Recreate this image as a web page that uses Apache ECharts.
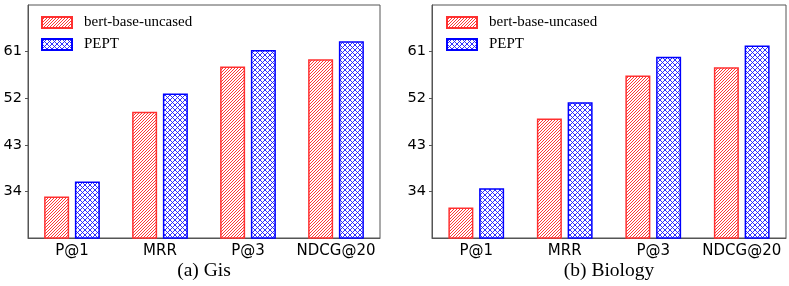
<!DOCTYPE html>
<html>
<head>
<meta charset="utf-8">
<script src="https://cdn.jsdelivr.net/npm/echarts@6/dist/echarts.min.js"></script>
<style>html,body{margin:0;padding:0;background:#fff;}#c{width:789px;height:286px;}</style>
</head>
<body>
<div id="c"></div>
<script>
const categories = ['P@1', 'MRR', 'P@3', 'NDCG@20'];
const seriesNames = ['bert-base-uncased', 'PEPT'];
const gisBert = [33.0, 49.4, 58.1, 59.5];
const gisPept = [35.9, 52.9, 61.3, 63.0];
const bioBert = [30.9, 48.1, 56.4, 58.0];
const bioPept = [34.6, 51.2, 60.0, 62.2];
const yTicks = [34, 43, 52, 61];
const panelTitles = ['(a) Gis', '(b) Biology'];

function hatch() {
  const c = document.createElement('canvas');
  const s = 3;
  c.width = s; c.height = s;
  const g = c.getContext('2d');
  g.fillStyle = '#fff'; g.fillRect(0, 0, s, s);
  g.strokeStyle = '#ff2020'; g.lineWidth = 0.9;
  for (let k = -1; k <= 1; k++) {
    g.beginPath(); g.moveTo(k * s - 1, s + 1); g.lineTo(k * s + s + 1, -1); g.stroke();
  }
  return c;
}
function cross() {
  const c = document.createElement('canvas');
  const s = 5;
  c.width = s; c.height = s;
  const g = c.getContext('2d');
  g.fillStyle = '#fff'; g.fillRect(0, 0, s, s);
  g.strokeStyle = '#1a1aff'; g.lineWidth = 0.9;
  for (let k = -1; k <= 1; k++) {
    g.beginPath(); g.moveTo(k * s - 1, s + 1); g.lineTo(k * s + s + 1, -1); g.stroke();
    g.beginPath(); g.moveTo(k * s - 1, -1); g.lineTo(k * s + s + 1, s + 1); g.stroke();
  }
  return c;
}
const redPat = { image: hatch(), repeat: 'repeat' };
const bluePat = { image: cross(), repeat: 'repeat' };

const grids = [
  { left: 28, top: 5, width: 352, height: 233 },
  { left: 432, top: 5, width: 354, height: 233 }
];
const sans = 'DejaVu Sans';
const serif = 'Liberation Serif';

function xAx(i) {
  return {
    type: 'category', gridIndex: i, data: categories,
    axisLine: { lineStyle: { color: '#555', width: 1 } },
    axisTick: { alignWithLabel: true, interval: 0, length: 3, lineStyle: { color: '#555' } },
    axisLabel: { interval: 0, fontFamily: sans, fontSize: 15, color: '#000', margin: 6 }
  };
}
function yAx(i) {
  return {
    type: 'value', gridIndex: i, min: 25, max: 70,
    splitLine: { show: false },
    axisLine: { show: true, lineStyle: { color: '#555', width: 1 } },
    axisTick: { show: true, length: 3, lineStyle: { color: '#555' }, customValues: yTicks },
    axisLabel: { fontFamily: sans, fontSize: 14.5, color: '#000', margin: 6, customValues: yTicks }
  };
}
function bar(name, i, data, pat, border) {
  return {
    name: name, type: 'bar', xAxisIndex: i, yAxisIndex: i, data: data,
    barWidth: 25, barGap: '23%',
    itemStyle: { color: pat, borderColor: border, borderWidth: 1.5 },
    emphasis: { disabled: true }
  };
}
function legend(left) {
  return {
    left: left, top: 15, orient: 'vertical', icon: 'rect', itemWidth: 30, itemHeight: 11, itemGap: 7, padding: 0,
    data: seriesNames,
    textStyle: { fontFamily: serif, fontSize: 15, color: '#000', padding: [0, 0, 0, 7] }
  };
}

const chart = echarts.init(document.getElementById('c'), null, { renderer: 'canvas' });
chart.setOption({
  animation: false,
  backgroundColor: '#fff',
  grid: grids.map(g => Object.assign({ show: true, borderColor: '#555', borderWidth: 1, containLabel: false }, g)),
  xAxis: [xAx(0), xAx(1)],
  yAxis: [yAx(0), yAx(1)],
  title: [
    { text: panelTitles[0], left: 204, top: 261, textAlign: 'center', padding: 0,
      textStyle: { fontFamily: serif, fontSize: 19.5, fontWeight: 'normal', color: '#000' } },
    { text: panelTitles[1], left: 609, top: 261, textAlign: 'center', padding: 0,
      textStyle: { fontFamily: serif, fontSize: 19.5, fontWeight: 'normal', color: '#000' } }
  ],
  legend: [legend(41), legend(446)],
  series: [
    bar(seriesNames[0], 0, gisBert, redPat, '#ff3030'),
    bar(seriesNames[1], 0, gisPept, bluePat, '#0000ff'),
    bar(seriesNames[0], 1, bioBert, redPat, '#ff3030'),
    bar(seriesNames[1], 1, bioPept, bluePat, '#0000ff')
  ]
});
</script>
</body>
</html>
